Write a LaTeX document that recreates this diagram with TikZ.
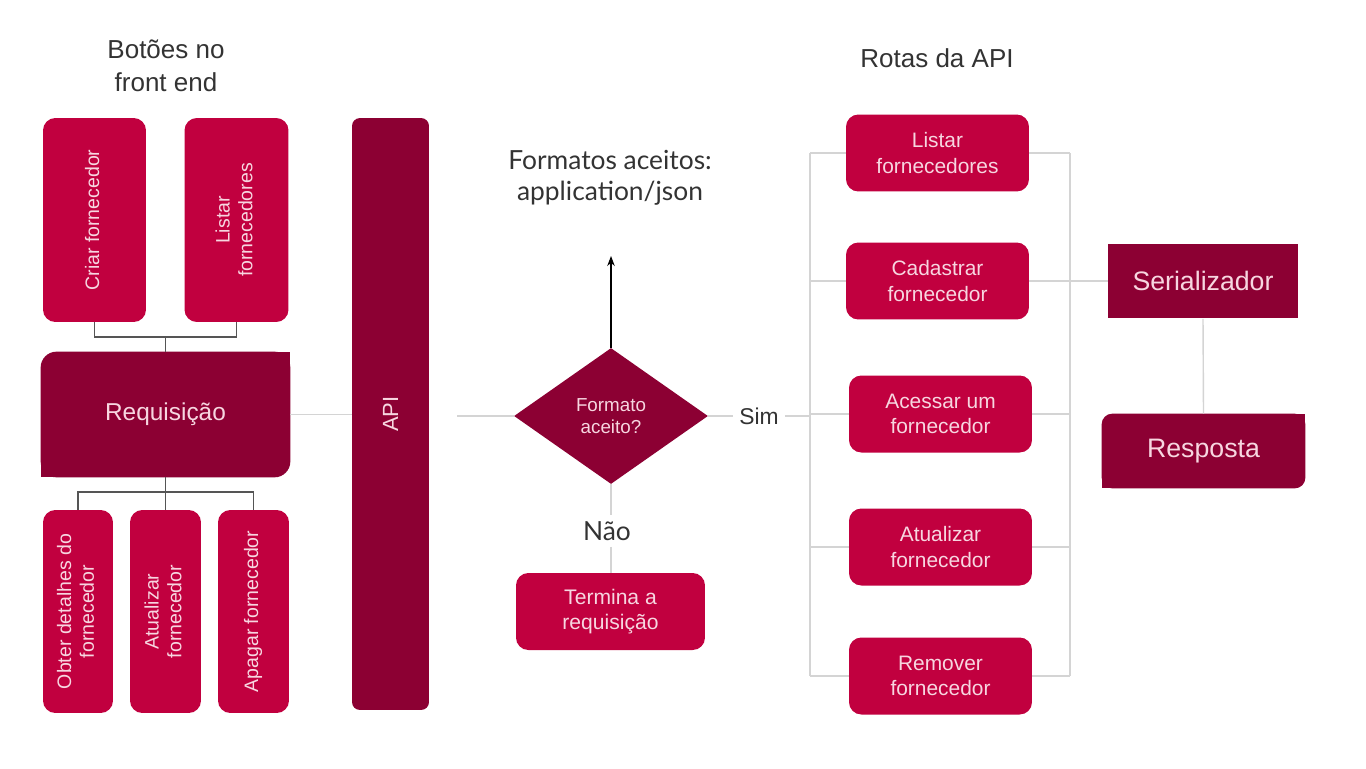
\documentclass[tikz,border=0pt]{standalone}
\usepackage{fontspec}
\usepackage{graphicx}
\setmainfont{Liberation Sans}
\newfontfamily\latofont{Lato}
\usetikzlibrary{arrows.meta,positioning,shapes.geometric,backgrounds}

\definecolor{crimson}{HTML}{C1003F}
\definecolor{wine}{HTML}{8C0033}
\definecolor{pinktext}{HTML}{F7D6E0}
\definecolor{darkline}{HTML}{555555}
\definecolor{paleline}{HTML}{D4D4D4}
\definecolor{headtext}{HTML}{333333}

\newcommand{\vlabel}[1]{\rotatebox{90}{\begin{tabular}{@{}c@{}}#1\end{tabular}}}

\begin{document}
\begin{tikzpicture}[
	x=0.02cm, y=-0.02cm,
	>=Stealth,
	btn/.style={
		rectangle, rounded corners=7pt,
		fill=crimson, text=pinktext,
		font=\fontsize{11.1}{13}\selectfont,
		inner sep=0pt
	},
	route/.style={
		btn, align=center,
		minimum width=3.66cm, minimum height=1.54cm,
		font=\fontsize{11.9}{14.5}\selectfont
	},
	dark/.style={
		rectangle, fill=wine, text=pinktext,
		inner sep=0pt
	},
	notch/.style={
		rectangle, text=pinktext, inner sep=0pt
	},
	head/.style={
		text=headtext, align=center,
		font=\fontsize{14.8}{18.5}\selectfont
	},
	tree/.style={darkline, semithick},
	bus/.style={paleline, thick}
]

\useasboundingbox (0,0) rectangle (1366,768);

% Left: front end buttons
\node[head] (front) at (166, 66) {Botões no\\front end};

\node[btn, minimum width=2.06cm, minimum height=4.08cm] (criar) at (94.5, 220) {\vlabel{Criar fornecedor}};
\node[btn, minimum width=2.08cm, minimum height=4.08cm] (listl) at (236.5, 220) {\vlabel{Listar\\fornecedores}};

\node[notch, minimum width=4.98cm, minimum height=2.5cm,
	font=\fontsize{13.9}{16}\selectfont] (req) at (165.5, 414.5) {Requisição};

\node[btn, minimum width=1.40cm, minimum height=4.06cm] (obter) at (78, 611.5) {\vlabel{Obter detalhes do\\fornecedor}};
\node[btn, minimum width=1.42cm, minimum height=4.06cm] (atual) at (165.5, 611.5) {\vlabel{Atualizar\\fornecedor}};
\node[btn, minimum width=1.42cm, minimum height=4.06cm] (apagar) at (253.5, 611.5) {\vlabel{Apagar fornecedor}};

\coordinate (topbar) at (165.5, 337);
\coordinate (botbar) at (165.5, 492);
\draw[tree] (criar.south) |- (topbar) -| (listl.south);
\draw[tree] (topbar) -- (req.north);
\draw[tree] (req.south) -- (atual.north);
\draw[tree] (obter.north) |- (botbar) -| (apagar.north);

% API column
\node[dark, rounded corners=4.5pt, minimum width=1.54cm, minimum height=11.84cm,
	font=\fontsize{12.5}{14}\selectfont] (api) at (390.5, 414) {\rotatebox{90}{API}};

\draw[bus] (req.east) -- (req.east -| api.west);

% Decision
\node[dark, diamond, aspect=1.43, minimum width=3.88cm, minimum height=2.72cm,
	align=center, font=\fontsize{10.7}{12.5}\selectfont] (fmt) at (611, 416) {Formato\\aceito?};
\node[head, font=\latofont\fontsize{15}{17.5}\selectfont] (accept) at (610, 178) {Formatos aceitos:\\application/json};
\coordinate (up) at (611, 256);
\node[head, font=\latofont\fontsize{15}{17}\selectfont] (nao) at (607, 531) {Não};
\node[btn, align=center, minimum width=3.78cm, minimum height=1.54cm,
	font=\fontsize{12}{14.5}\selectfont] (term) at (610.5, 611.5) {Termina a\\requisição};
\node[head, font=\fontsize{13}{15}\selectfont] (sim) at (759, 416) {Sim};

\draw[bus, shorten <=0.56cm] (api.east |- fmt.west) -- (fmt.west);
\draw[->, semithick, black] (fmt.north) -- (up);
\draw[bus] (fmt.south) -- (fmt.south |- nao.north);
\draw[bus] (nao.south -| fmt.south) -- (fmt.south |- term.north);
\draw[bus] (fmt.east) -- (sim.west);

% Right: API routes
\node[head] (rotas) at (937, 58) {Rotas da API};

\node[route] (r1) at (937.5, 153) {Listar\\fornecedores};
\node[route] (r2) at (937.5, 281) {Cadastrar\\fornecedor};
\node[route] (r3) at (940.5, 414) {Acessar um\\fornecedor};
\node[route] (r4) at (940.5, 547) {Atualizar\\fornecedor};
\node[route] (r5) at (940.5, 676) {Remover\\fornecedor};

\coordinate (lbus) at (810, 0);
\coordinate (rbus) at (1070, 0);

\draw[bus] (sim.east) -- (sim.east -| lbus);
\draw[bus] (r1.west -| lbus) -- (r5.west -| lbus);
\draw[bus] (r1.east -| rbus) -- (r5.east -| rbus);
\foreach \r in {r1,r2,r3,r4,r5} {
	\draw[bus] (\r.west) -- (\r.west -| lbus);
	\draw[bus] (\r.east) -- (\r.east -| rbus);
}

\node[dark, minimum width=3.8cm, minimum height=1.5cm,
	font=\fontsize{15.2}{17}\selectfont] (ser) at (1203, 281) {Serializador};
\node[notch, minimum width=4.06cm, minimum height=1.48cm,
	font=\fontsize{15.2}{17}\selectfont] (resp) at (1203.5, 451) {Resposta};

\draw[bus] (r2.east) -- (ser.west);
\draw[bus] (ser.south) -- (resp.north);

% Two rounded corners on Requisicao and Resposta
\begin{scope}[on background layer]
	\fill[white] (0,0) rectangle (1366,768);
	\foreach \n/\rad in {req/9pt, resp/6pt} {
		\fill[wine, rounded corners=\rad] (\n.south west) rectangle (\n.north east);
		\fill[wine] (\n.south west) rectangle (\n.center);
		\fill[wine] (\n.center) rectangle (\n.north east);
	}
\end{scope}

\end{tikzpicture}
\end{document}
